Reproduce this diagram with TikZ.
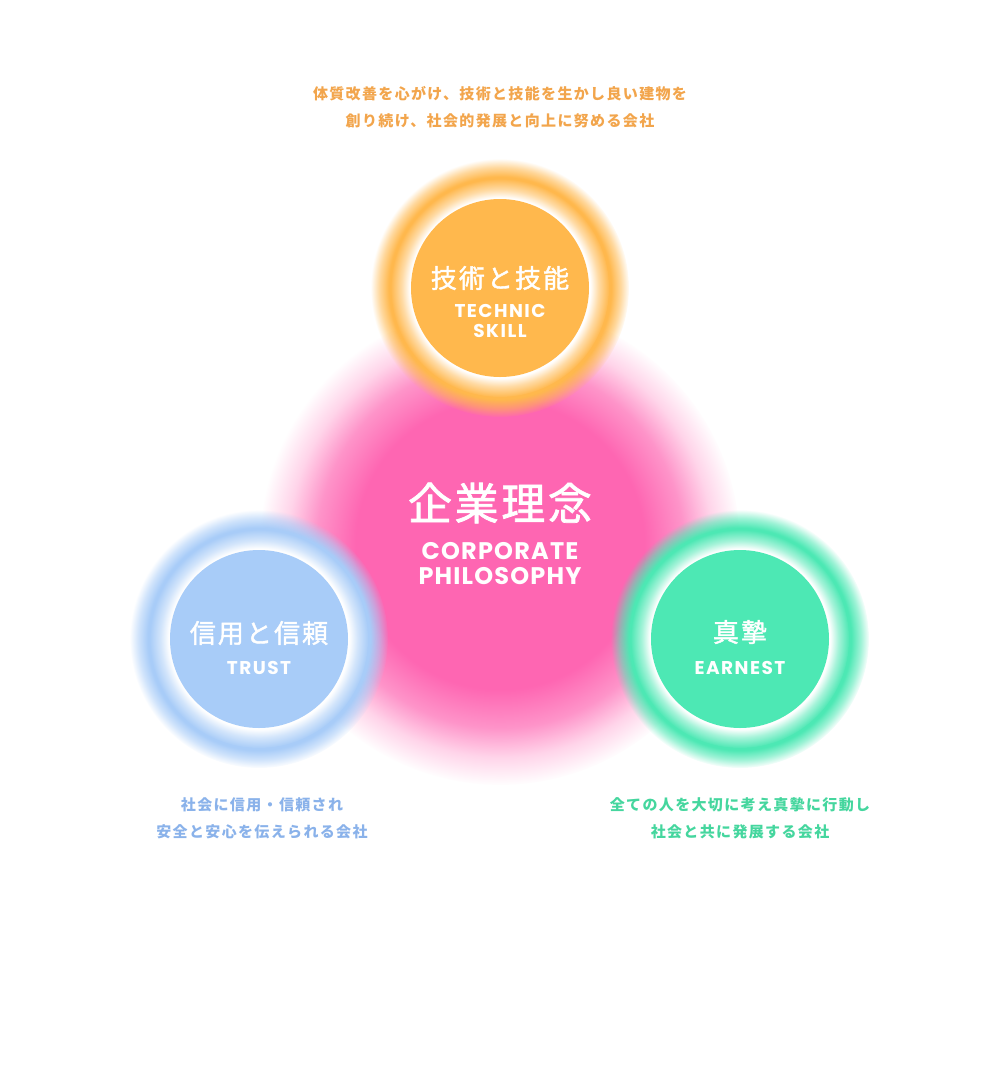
\documentclass[tikz,border=0pt]{standalone}
\usepackage{fontspec}
\newfontfamily\jpfont{Noto Sans CJK JP}
\newfontfamily\jptitlefont{Noto Sans CJK JP}[FakeBold=1.6]
\newfontfamily\enfont{Poppins}
\usetikzlibrary{positioning, fadings}
\definecolor{color1}{HTML}{FFB84D}
\definecolor{color2}{HTML}{A8CCF8}
\definecolor{color3}{HTML}{4DE8B4}
\definecolor{color4}{HTML}{FE66B2}
\definecolor{color5}{HTML}{F2A54C}
\definecolor{color6}{HTML}{8AB2EA}
\definecolor{color7}{HTML}{45D69E}

% 渐隐定义
\pgfdeclareradialshading{blobshade}{\pgfpointorigin}{color(0bp)=(pgftransparent!0); color(15bp)=(pgftransparent!0); color(19bp)=(pgftransparent!30); color(22bp)=(pgftransparent!72); color(25bp)=(pgftransparent!100); color(50bp)=(pgftransparent!100)}
\pgfdeclarefading{blobfade}{\pgfuseshading{blobshade}}
\pgfdeclareradialshading{ringshade}{\pgfpointorigin}{color(0bp)=(pgftransparent!0); color(21.5bp)=(pgftransparent!0); color(23.3bp)=(pgftransparent!45); color(25bp)=(pgftransparent!100); color(50bp)=(pgftransparent!100)}
\pgfdeclarefading{ringfade}{\pgfuseshading{ringshade}}
\pgfdeclareradialshading{haloshade}{\pgfpointorigin}{color(0bp)=(pgftransparent!0); color(20.6bp)=(pgftransparent!0); color(22.5bp)=(pgftransparent!50); color(25bp)=(pgftransparent!100); color(50bp)=(pgftransparent!100)}
\pgfdeclarefading{halofade}{\pgfuseshading{haloshade}}

\begin{document}
\begin{tikzpicture}[
    x=1pt, y=-1pt,
    % 样式定义
    core/.style={circle, minimum size=178pt, inner sep=0pt},
    jptitle/.style={text=white, inner sep=0pt, font=\jptitlefont\addfontfeature{LetterSpace=8}\fontsize{26}{30}\selectfont},
    entitle/.style={text=white, inner sep=0pt, align=center, font=\enfont\bfseries\addfontfeature{LetterSpace=8}\fontsize{18.5}{20}\selectfont},
    desc/.style={inner sep=0pt, align=center, font=\jpfont\bfseries\addfontfeature{LetterSpace=9}\fontsize{15}{27}\selectfont}
]
    \useasboundingbox (0,0) rectangle (1000,1080);

    \coordinate (ctech) at (500,288);
    \coordinate (ctrust) at (259,639);
    \coordinate (cearn) at (740,639);
    \coordinate (cphilo) at (500,545);

    % --- 中央粉色光团 ---
    \fill [color4, path fading=blobfade] (cphilo) circle (240);

    % --- 三个光环 ---
    \fill [color1, path fading=ringfade] (ctech) circle (129);
    \fill [white, path fading=halofade] (ctech) circle (109);
    \fill [color2, path fading=ringfade] (ctrust) circle (129);
    \fill [white, path fading=halofade] (ctrust) circle (109);
    \fill [color3, path fading=ringfade] (cearn) circle (129);
    \fill [white, path fading=halofade] (cearn) circle (109);

    % --- 圆形主体 ---
    \node (tech) [core, fill=color1] at (ctech) {};
    \node (trust) [core, fill=color2] at (ctrust) {};
    \node (earn) [core, fill=color3] at (cearn) {};

    % --- 标题 ---
    \node (philojp) [jptitle, font=\jptitlefont\addfontfeature{LetterSpace=6}\fontsize{44}{48}\selectfont] at (500,503) {企業理念};
    \node (philoen) [entitle, font=\enfont\bfseries\addfontfeature{LetterSpace=5}\fontsize{24}{25}\selectfont] at (500,564) {CORPORATE\\PHILOSOPHY};

    \node (techjp) [jptitle] at (500,278) {技術と技能};
    \node (techen) [entitle] at (500,321) {TECHNIC\\SKILL};

    \node (trustjp) [jptitle] at (259,633) {信用と信頼};
    \node (trusten) [entitle] at (259,668) {TRUST};

    \node (earnjp) [jptitle] at (740,632) {真摯};
    \node (earnen) [entitle] at (740,668) {EARNEST};

    % --- 说明文字 ---
    \node (techtxt) [desc, text=color5] at (500,107) {体質改善を心がけ、技術と技能を生かし良い建物を\\創り続け、社会的発展と向上に努める会社};
    \node (trusttxt) [desc, text=color6] at (262,818.5) {社会に信用・信頼され\\安全と安心を伝えられる会社};
    \node (earntxt) [desc, text=color7] at (740,818.5) {全ての人を大切に考え真摯に行動し\\社会と共に発展する会社};

\end{tikzpicture}
\end{document}
